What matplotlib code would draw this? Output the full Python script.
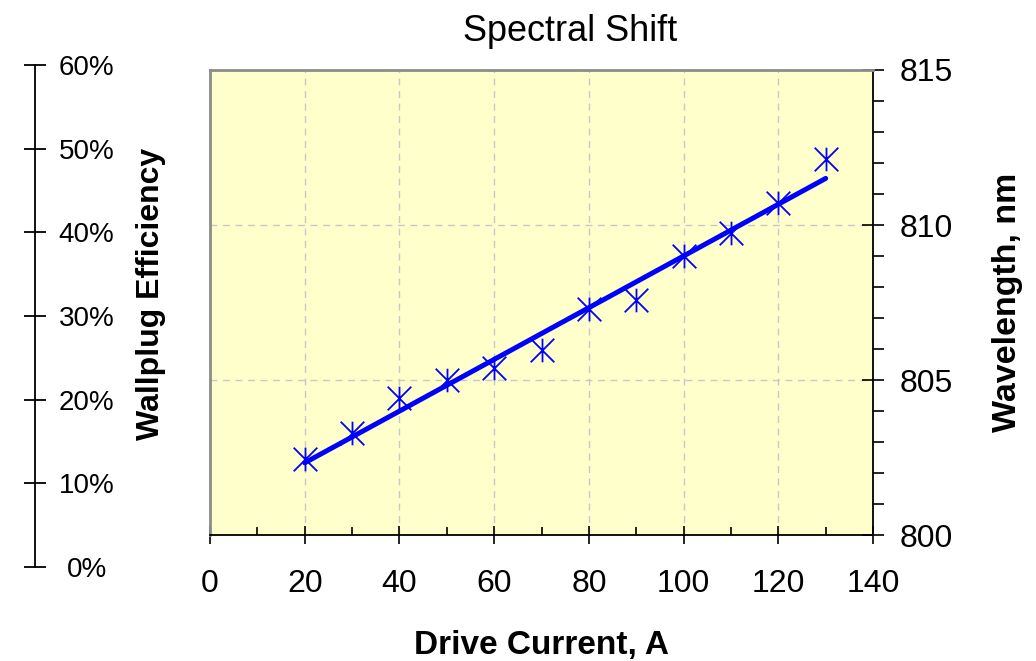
import numpy as np
import matplotlib.pyplot as plt
from matplotlib.path import Path
from matplotlib.ticker import MultipleLocator, FuncFormatter

plt.rcParams['font.family'] = ['Liberation Sans', 'DejaVu Sans']

# drive current (A) and measured peak wavelength (nm)
current = [20, 30, 40, 50, 60, 70, 80, 90, 100, 110, 120, 130]
wavelength = [802.44, 803.30, 804.41, 805.00, 805.39, 805.98,
              807.30, 807.59, 809.00, 809.73, 810.72, 812.13]

eff_ticks = [0, 0.1, 0.2, 0.3, 0.4, 0.5, 0.6]

# linear trend through the measured points
slope, icpt = np.polyfit(current, wavelength, 1)
fit_x = np.array([current[0], current[-1]])
fit_y = slope * fit_x + icpt

# asterisk marker: X with a vertical stroke
star = Path([(-1, -1), (1, 1), (-1, 1), (1, -1), (0, -1), (0, 1)],
            [Path.MOVETO, Path.LINETO, Path.MOVETO, Path.LINETO,
             Path.MOVETO, Path.LINETO])

fig = plt.figure(figsize=(10.36, 6.61), dpi=100)
ax = fig.add_axes([0.2027, 0.1906, 0.640, 0.7035])
ax.set_facecolor('#FFFFCC')

ax.plot(fit_x, fit_y, color='#0000FF', lw=3.6, solid_capstyle='round', zorder=3)
ax.plot(current, wavelength, ls='none', marker=star, ms=17, mew=1.3,
        mec='#0000FF', mfc='none', zorder=4)

ax.set_xlim(0, 140)
ax.set_ylim(800, 815)
ax.xaxis.set_major_locator(MultipleLocator(20))
ax.xaxis.set_minor_locator(MultipleLocator(10))
ax.yaxis.set_major_locator(MultipleLocator(5))
ax.yaxis.set_minor_locator(MultipleLocator(1))
ax.yaxis.tick_right()
ax.yaxis.set_label_position('right')

ax.grid(True, which='major', ls=(0, (5, 4)), color='#c8c8c8', lw=1)
ax.set_axisbelow(True)

ax.tick_params(axis='x', which='major', direction='inout', length=13, width=1.2,
               labelsize=23, pad=18)
ax.tick_params(axis='x', which='minor', direction='in', length=6, width=1.2)
ax.tick_params(axis='y', which='major', direction='inout', length=16, width=1.2,
               labelsize=23, pad=11, right=True, left=False)
ax.tick_params(axis='y', which='minor', direction='out', length=8, width=1.2,
               right=True, left=False)

for side in ['top', 'left']:
    ax.spines[side].set_color('#8c8c8c')
    ax.spines[side].set_linewidth(2)
for side in ['bottom', 'right']:
    ax.spines[side].set_color('black')
    ax.spines[side].set_linewidth(1.3)

ax.set_xlabel('Drive Current, A', fontsize=24, fontweight='bold', labelpad=22)
ax.set_ylabel('Wavelength, nm', fontsize=24.5, fontweight='bold', labelpad=28)

# detached efficiency scale on the far left
ax2 = fig.add_axes([0.0335, 0.1422, 0.0005, 0.7595])
ax2.set_ylim(0, 0.6)
ax2.set_yticks(eff_ticks)
ax2.yaxis.set_major_formatter(FuncFormatter(lambda v, p: f'{v * 100:.0f}%'))
ax2.set_xticks([])
ax2.patch.set_visible(False)
for side in ['top', 'bottom', 'left']:
    ax2.spines[side].set_visible(False)
ax2.spines['right'].set_linewidth(1.3)
ax2.yaxis.tick_right()
ax2.tick_params(axis='y', direction='inout', length=16, width=1.3,
                labelsize=20, pad=29)
for lab in ax2.get_yticklabels():
    lab.set_ha('center')

fig.text(0.1455, 0.555, 'Wallplug Efficiency', rotation=90, fontsize=23,
         fontweight='bold', ha='center', va='center')

fig.text(0.55, 0.952, 'Spectral Shift', fontsize=26, ha='center', va='center')

fig.savefig('out.png', dpi=100)
